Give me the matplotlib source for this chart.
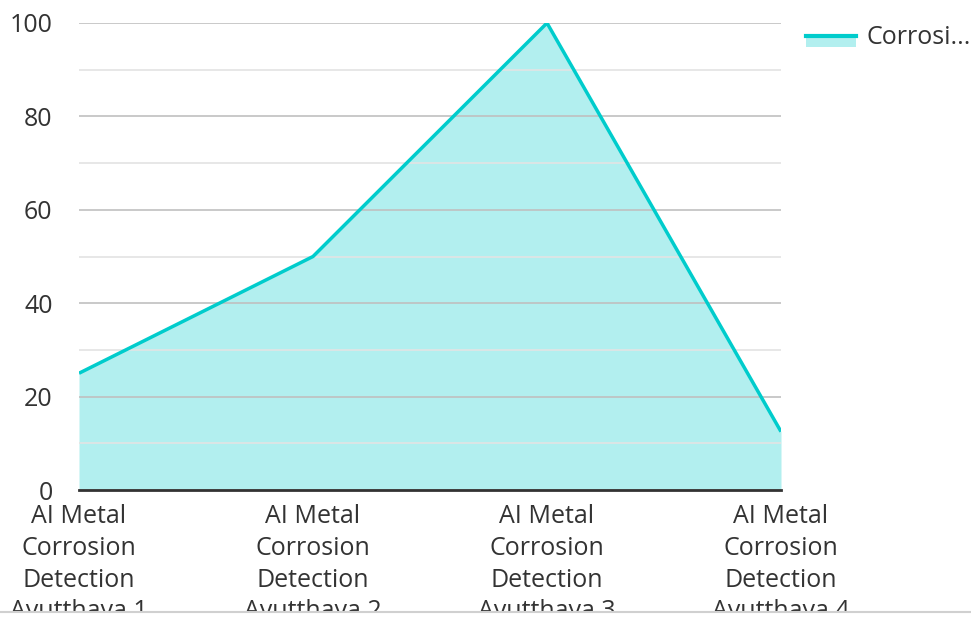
import matplotlib.pyplot as plt
from matplotlib.patches import Rectangle
from matplotlib.lines import Line2D

plt.rcParams['font.family'] = ['Open Sans', 'DejaVu Sans']

categories = ['AI Metal\nCorrosion\nDetection\nAyutthaya 1',
              'AI Metal\nCorrosion\nDetection\nAyutthaya 2',
              'AI Metal\nCorrosion\nDetection\nAyutthaya 3',
              'AI Metal\nCorrosion\nDetection\nAyutthaya 4']
values = [25, 50, 100, 12.5]
series_name = 'Corrosi...'

line_color = '#00cccc'
fill_color = '#b2efef'

fig = plt.figure(figsize=(9.71, 6.17), dpi=100)
ax = fig.add_axes([79 / 971, 1 - 490 / 617, (781 - 79) / 971, (490 - 23) / 617])

x = range(len(values))
ax.fill_between(x, values, 0, color=fill_color, linewidth=0, zorder=1)
ax.plot(x, values, color=line_color, linewidth=2.5, zorder=3, solid_capstyle='butt')

ax.set_xlim(0, len(values) - 1)
ax.set_ylim(0, 100)
ax.set_yticks(range(0, 101, 20))
ax.set_yticks(range(10, 100, 20), minor=True)
ax.grid(axis='y', which='major', color='#c0c0c0', linewidth=1.2, zorder=2)
ax.grid(axis='y', which='minor', color='#e3e3e3', linewidth=1.2, zorder=2)
ax.set_axisbelow(False)

for side in ['top', 'right', 'left']:
    ax.spines[side].set_visible(False)
ax.spines['bottom'].set_color('#333333')
ax.spines['bottom'].set_linewidth(2)
ax.spines['bottom'].set_zorder(4)

ax.set_xticks(list(x))
ax.set_xticklabels(categories, linespacing=1.36)
ax.tick_params(axis='both', which='both', length=0, labelsize=18, colors='#333333')
ax.tick_params(axis='x', pad=10)
ax.tick_params(axis='y', pad=19)

# legend swatch: fill patch with the line on its top edge
fig.add_artist(Rectangle((806 / 971, 1 - 47 / 617), 50 / 971, 12 / 617,
                         transform=fig.transFigure, color=fill_color, linewidth=0))
fig.add_artist(Line2D([806 / 971, 856 / 971], [1 - 36 / 617, 1 - 36 / 617],
                      transform=fig.transFigure, color=line_color, linewidth=3))
fig.text(866 / 971, 1 - 37 / 617, series_name, fontsize=18, color='#333333',
         va='center', ha='left')

# bottom frame cuts off the category labels
fig.add_artist(Rectangle((0, 0), 1, 5 / 617, transform=fig.transFigure,
                         color='white', linewidth=0, zorder=10))
fig.add_artist(Line2D([0, 1], [5 / 617, 5 / 617], transform=fig.transFigure,
                      color='#d0d0d0', linewidth=1.5, zorder=11))

fig.savefig('out.png', dpi=100)
